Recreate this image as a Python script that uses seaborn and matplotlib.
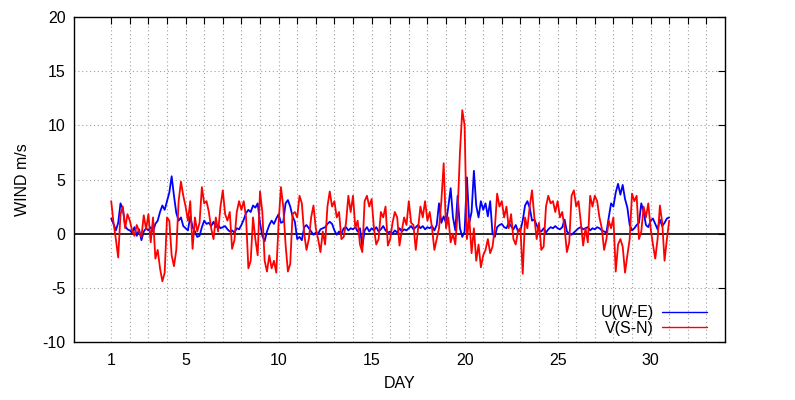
import numpy as np
import pandas as pd
import matplotlib
matplotlib.use("Agg")
import matplotlib.pyplot as plt
import seaborn as sns

# ---- data (3-hourly readings, day 1.0 .. 31.0) ----
u_we = [
    1.4, 0.9, 0.3, 1.0, 2.8, 2.3, 0.7, 0.4,      # day 1
    0.3, 0.1, 0.6, -0.2, 0.4, -0.6, 0.2, 0.5,    # day 2
    0.3, 0.6, 0.2, 0.9, 1.2, 2.0, 2.6, 2.2,      # day 3
    3.0, 3.8, 5.3, 3.5, 1.9, 1.2, 1.5, 0.7,      # day 4
    0.5, 0.3, 1.6, 0.6, 0.2, -0.3, -0.2, 0.6,    # day 5
    1.2, 0.9, 1.0, 0.7, 1.1, 0.6, 0.8, 0.5,      # day 6
    0.6, 0.7, 0.4, 0.2, 0.3, 0.1, 0.5, 0.4,      # day 7
    0.8, 1.3, 1.9, 2.2, 2.0, 2.6, 2.4, 2.8,      # day 8
    1.0, -0.2, -0.7, 0.2, 0.8, 1.2, 0.9, 1.4,    # day 9
    1.8, 1.0, 1.1, 2.8, 3.1, 2.5, 1.6, 1.1,      # day 10
    -0.5, -0.3, -0.6, 0.6, 0.8, 0.5, 0.2, -0.1,  # day 11
    0.1, 0.0, 0.4, 0.5, 0.6, 0.9, 1.1, 0.9,      # day 12
    0.3, -0.1, 0.2, 0.0, 0.5, 0.6, 0.3, 0.5,     # day 13
    0.4, 0.6, 0.2, 0.5, -1.2, 0.3, 0.6, 0.2,     # day 14
    0.5, 0.3, 0.6, 0.2, 0.4, 0.7, 0.3, 0.1,      # day 15
    0.2, 0.0, 0.3, 0.1, 0.5, 0.2, 0.4, 0.3,      # day 16
    0.5, 0.7, 0.4, 0.6, 0.8, 0.5, 0.7, 0.4,      # day 17
    0.6, 0.5, 0.7, 0.3, 0.8, 2.8, 1.0, 1.6,      # day 18
    1.0, 2.5, 4.2, 1.5, 0.3, 3.5, 0.5, -0.3,     # day 19
    0.2, 5.2, 1.0, 2.0, 5.8, 2.6, 1.5, 3.0,      # day 20
    2.2, 2.8, 1.6, 3.0, 0.0, -0.3, 0.6, 0.8,     # day 21
    0.9, 0.6, 0.5, 1.0, 0.7, 0.4, 0.8, 0.2,      # day 22
    0.3, 1.2, 2.6, 3.0, 2.4, 1.2, 1.3, 0.8,      # day 23
    0.3, 0.2, 0.5, 0.1, 0.4, 0.6, 0.5, 0.7,      # day 24
    0.5, 0.4, 0.6, 1.3, 0.2, 0.0, -0.1, 0.1,     # day 25
    0.3, 0.5, 0.6, 0.4, 0.5, 0.6, 0.3, 0.5,      # day 26
    0.4, 0.6, 0.5, 0.3, 0.2, 0.1, 1.5, 2.8,      # day 27
    2.5, 3.8, 4.6, 3.6, 4.5, 3.2, 2.4, 0.8,      # day 28
    0.3, 0.5, 0.8, 1.0, 2.8, 2.0, 0.8, 0.6,      # day 29
    1.2, 1.4, 0.9, 0.4, 1.3, 0.7, 1.0, 1.4,      # day 30
    1.5,                                         # day 31
]

v_sn = [
    3.0, 1.0, -0.5, -2.2, 1.8, 2.5, 0.5, 1.8,    # day 1
    1.2, 0.3, -0.2, 0.8, 0.2, -0.3, 1.7, 0.4,    # day 2
    1.8, -0.8, 1.5, -2.3, -1.5, -3.2, -4.4, -3.6,  # day 3
    1.5, 1.2, -2.0, -3.0, -1.5, 3.0, 4.8, 3.5,   # day 4
    2.5, 1.2, 3.0, -1.4, 1.5, 0.2, 1.0, 4.3,     # day 5
    2.8, 3.0, 2.0, 0.5, -0.5, 1.5, 0.2, 2.5,     # day 6
    4.0, 1.8, 1.2, 2.0, -1.4, -0.6, 2.0, 3.0,    # day 7
    2.2, 3.0, 1.5, -3.2, -2.5, 1.5, -0.5, -2.0,  # day 8
    3.9, 2.0, -2.5, -3.5, -2.0, -3.2, -2.5, -3.6,  # day 9
    1.0, 4.3, 2.5, -1.0, -3.5, -2.8, 1.8, 2.0,   # day 10
    1.5, 3.5, 2.8, 0.0, -1.5, -0.5, 1.5, 2.6,    # day 11
    0.5, -0.5, -1.7, 0.2, -1.0, 2.5, 3.9, 2.5,   # day 12
    3.0, 1.5, 2.0, -0.5, -0.3, 1.0, 3.5, 2.0,    # day 13
    3.5, 0.5, 1.2, -1.0, -1.7, 3.0, 3.5, 2.5,    # day 14
    3.2, 0.5, -1.0, -0.5, 2.0, 1.5, 2.5, -1.1,   # day 15
    -0.5, 1.0, 2.0, 1.5, -1.1, 0.3, 1.5, 0.8,    # day 16
    3.0, 1.0, 0.8, -1.5, 0.5, 2.5, 1.5, 3.0,     # day 17
    1.2, 2.0, 0.5, -1.5, -0.5, 0.5, 3.0, 6.5,    # day 18
    0.5, 1.5, -0.8, 0.0, -1.0, 2.0, 7.5, 11.4,   # day 19
    10.0, -0.5, 1.5, -1.8, 0.5, -2.5, -1.0, -3.1,  # day 20
    -2.0, -1.5, -0.5, -1.8, -1.2, 0.5, 3.7, 2.5,  # day 21
    3.0, 1.5, 2.5, 0.5, 1.8, -0.5, -1.0, 0.3,    # day 22
    0.5, -3.7, 1.5, 0.5, 2.5, 4.0, 1.5, -0.5,    # day 23
    1.0, -1.5, -1.2, 2.5, 3.5, 2.8, 3.0, 2.0,    # day 24
    3.0, 1.5, 2.0, 0.5, -1.7, -0.8, 3.5, 4.0,    # day 25
    2.5, 3.0, 1.0, -1.1, 0.5, -0.8, 3.5, 2.5,    # day 26
    3.5, 3.0, 1.5, 0.5, -1.5, -0.5, 1.2, 0.5,    # day 27
    1.5, -3.5, -1.0, -0.5, -1.2, -3.6, -2.0, -0.5,  # day 28
    3.7, 3.0, 3.5, -0.5, 0.2, 2.5, 1.5, 2.8,     # day 29
    0.5, -1.0, -2.3, -0.5, 2.6, 1.0, -2.5, -0.5,  # day 30
    1.2,                                         # day 31
]

days = np.arange(1, 31 + 1e-9, 0.125)
series_names = ["U(W-E)", "V(S-N)"]
series_colors = ["#0000ff", "#ff0000"]
x_tick_labels = ["1", "5", "10", "15", "20", "25", "30"]
y_ticks = [-10, -5, 0, 5, 10, 15, 20]

df = pd.DataFrame({"DAY": days, series_names[0]: u_we, series_names[1]: v_sn})

# ---- style ----
sns.set_theme(style="white")
plt.rcParams["font.family"] = ["Liberation Sans", "DejaVu Sans"]

fig = plt.figure(figsize=(7.95, 4.0), dpi=100)
ax = fig.add_axes([74 / 795, 1 - 342 / 400, (725 - 74) / 795, (342 - 17) / 400])

for name, col in zip(series_names, series_colors):
    sns.lineplot(data=df, x="DAY", y=name, ax=ax, color=col, lw=1.3,
                 label=name, estimator=None, sort=False)

ax.set_xlim(-1, 34)
ax.set_ylim(-10, 20)

# grid
grid_kw = dict(color="#a0a0a0", lw=0.8, ls=(0, (1, 2.5)), zorder=0)
for d in range(1, 34):
    ax.axvline(d, **grid_kw)
for yv in [-5, 5, 10, 15]:
    ax.axhline(yv, **grid_kw)
ax.axhline(0, color="black", lw=1.2, zorder=1)

# ticks
xt = list(range(1, 34))
ax.set_xticks(xt)
ax.set_xticklabels([str(d) if str(d) in x_tick_labels else "" for d in xt])
ax.set_yticks(y_ticks)
ax.set_yticklabels([str(v) for v in y_ticks])
ax.tick_params(axis="both", direction="in", length=5, width=0.8, color="black",
               top=True, right=True, labelsize=11.5, labelcolor="black", pad=6)
ax.tick_params(axis="x", pad=8)

for sp in ax.spines.values():
    sp.set_visible(True)
    sp.set_color("black")
    sp.set_linewidth(1.0)

ax.set_xlabel("DAY", fontsize=11.5, color="black", labelpad=6)
ax.set_ylabel("WIND m/s", fontsize=11.5, color="black", labelpad=9)

leg = ax.legend(loc="lower right", frameon=False, markerfirst=False,
                fontsize=11.5, handlelength=2.8, handletextpad=0.55,
                labelspacing=0.0, borderaxespad=0.0, borderpad=0.0,
                bbox_to_anchor=(0.9724, 0.02))
for t in leg.get_texts():
    t.set_color("black")
for h in leg.get_lines():
    h.set_linewidth(1.0)

fig.savefig("out.png", dpi=100, facecolor="white")
